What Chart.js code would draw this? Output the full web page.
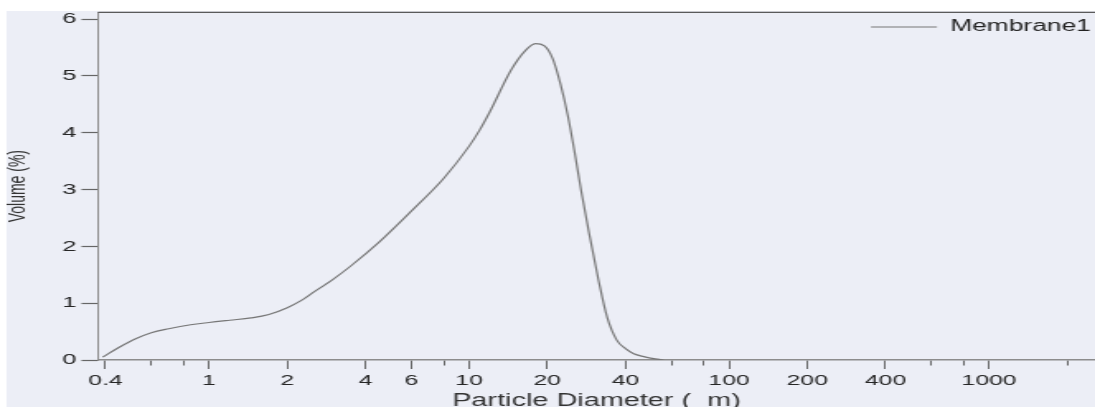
<!DOCTYPE html>
<html>
<head>
<meta charset="utf-8">
<script src="https://cdn.jsdelivr.net/npm/chart.js@4.4.1/dist/chart.umd.min.js"></script>
<style>
  html, body { margin: 0; padding: 0; background: #fff; overflow: hidden; }
  #wrap { width: 1095px; height: 407px; overflow: hidden; }
  /* the reference picture is stretched sideways, so the canvas is too */
  canvas { display: block; transform: scaleX(1.6491); transform-origin: 0 0; }
</style>
</head>
<body>
<div id="wrap"><canvas id="myChart" width="664" height="407"></canvas></div>
<script>
// particle diameter (um) and volume (%)
var diameters = [0.39, 0.45, 0.52, 0.6, 0.7, 0.85, 1.0, 1.2, 1.45, 1.7, 2.0, 2.25, 2.5, 3.0, 3.5, 4.5, 6.0, 8.0,
  10, 11, 12, 14.5, 16.5, 18, 19.5, 21, 22.5, 24, 25.5, 27, 29, 31.5, 34, 37, 40, 43, 47, 52, 56];
var volumes = [0.05, 0.22, 0.37, 0.48, 0.55, 0.62, 0.66, 0.70, 0.74, 0.80, 0.92, 1.04, 1.18, 1.42, 1.65, 2.07, 2.62, 3.2,
  3.76, 4.05, 4.36, 5.1, 5.45, 5.57, 5.53, 5.3, 4.85, 4.3, 3.65, 2.98, 2.22, 1.4, 0.75, 0.35, 0.2, 0.11, 0.06, 0.02, 0];

var xTickValues = [0.4, 0.6, 0.8, 1, 2, 4, 6, 8, 10, 20, 40, 60, 80, 100, 200, 400, 600, 800, 1000, 2000];
var xTickLabels = ['0.4', '1', '2', '4', '6', '10', '20', '40', '100', '200', '400', '1000'];
var yTickValues = [0, 1, 2, 3, 4, 5, 6];

var points = diameters.map(function (d, i) { return { x: d, y: volumes[i] }; });

function isMajor(v) {
  return xTickLabels.indexOf(String(v)) >= 0;
}

var font = 'Liberation Sans, Arial, sans-serif';

var background = {
  id: 'background',
  beforeDraw: function (chart) {
    var ctx = chart.ctx;
    ctx.save();
    ctx.fillStyle = '#fff';
    ctx.fillRect(0, 0, chart.width, chart.height);
    ctx.fillStyle = '#eceef6';
    ctx.fillRect(4, 11, chart.width, chart.height);
    ctx.restore();

    // move the legend box to the top right corner of the plot
    var lg = chart.legend, a = chart.chartArea;
    if (lg && lg.legendHitBoxes && lg.legendHitBoxes.length) {
      var pad = lg.options.labels.padding;
      var hb = lg.legendHitBoxes[0];
      lg.left = 661.5 - hb.width - pad;
      lg.right = a.right;
      lg.top = 27 - hb.height / 2 - pad;
      lg.bottom = a.bottom;
    }
  },
  beforeDatasetsDraw: function (chart) {
    // dark frame line along the top of the plot
    var a = chart.chartArea, ctx = chart.ctx;
    ctx.save();
    ctx.strokeStyle = '#5a5a5a';
    ctx.lineWidth = 1.2;
    ctx.beginPath();
    ctx.moveTo(a.left, a.top);
    ctx.lineTo(a.right, a.top);
    ctx.stroke();
    ctx.restore();
  }
};

var ctx = document.getElementById('myChart');

new Chart(ctx, {
  type: 'line',
  data: {
    datasets: [{
      label: 'Membrane1',
      data: points,
      borderColor: '#777',
      backgroundColor: '#777',
      borderWidth: 1.2,
      pointRadius: 0,
      cubicInterpolationMode: 'monotone',
      fill: false
    }]
  },
  options: {
    responsive: false,
    animation: false,
    devicePixelRatio: 1,
    layout: { padding: { top: 12, left: 0, right: 0, bottom: -3 } },
    plugins: {
      tooltip: { enabled: false },
      legend: {
        position: 'chartArea',
        align: 'start',
        labels: {
          usePointStyle: true,
          pointStyle: 'line',
          pointStyleWidth: 40,
          padding: 3,
          color: '#222',
          font: { family: font, size: 16 }
        }
      }
    },
    scales: {
      x: {
        type: 'logarithmic',
        min: 0.3742,
        max: 2556,
        afterBuildTicks: function (scale) {
          scale.ticks = xTickValues.map(function (v) { return { value: v }; });
        },
        afterFit: function (scale) { scale.height = 50; },
        ticks: {
          autoSkip: false,
          maxRotation: 0,
          padding: 3,
          color: '#262626',
          font: { family: font, size: 15 },
          callback: function (v) { return isMajor(v) ? String(v) : ''; }
        },
        grid: {
          drawOnChartArea: false,
          tickLength: 9,
          tickColor: '#666',
          tickWidth: 1,
          tickBorderDash: function (c) { return isMajor(c.tick.value) ? [] : [5, 20]; }
        },
        border: { color: '#8c8c8c', width: 1.5 },
        title: {
          display: true,
          text: 'Particle Diameter (  m)',
          color: '#333',
          font: { family: font, size: 17.5, lineHeight: 1 },
          padding: { top: 0, bottom: 0 }
        }
      },
      y: {
        min: 0,
        max: 6.12,
        afterBuildTicks: function (scale) {
          scale.ticks = yTickValues.map(function (v) { return { value: v }; });
        },
        afterFit: function (scale) { scale.width = 59.4; },
        ticks: {
          padding: 3,
          color: '#262626',
          font: { family: font, size: 15.5 }
        },
        grid: { drawOnChartArea: false, tickLength: 10, tickColor: '#666', tickWidth: 1.2 },
        border: { color: '#8c8c8c', width: 1 },
        title: {
          display: true,
          text: 'Volume (%)',
          color: '#333',
          font: { family: font, size: 14, lineHeight: 1.2 },
          padding: { top: 3, bottom: 0 }
        }
      }
    }
  },
  plugins: [background]
});
</script>
</body>
</html>
